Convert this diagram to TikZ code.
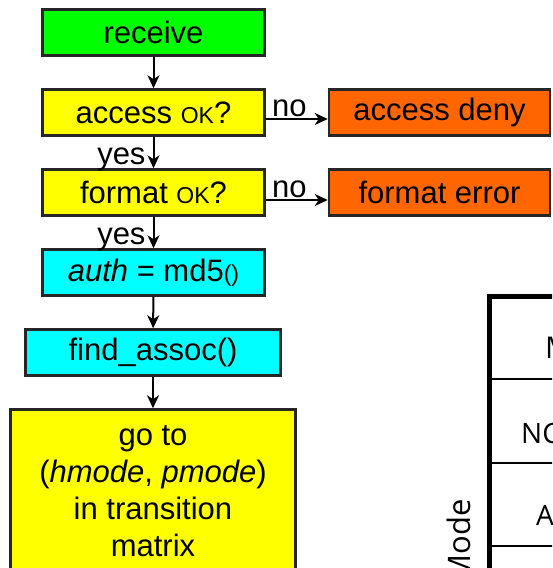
\documentclass[tikz,border=0pt]{standalone}
\usepackage{fontspec}
\setmainfont{Liberation Sans}
\newfontfamily\tabfont{Open Sans}
\usetikzlibrary{positioning,arrows.meta}
\definecolor{rcvgreen}{RGB}{0,255,0}
\definecolor{chkyellow}{RGB}{255,255,0}
\definecolor{opcyan}{RGB}{0,255,255}
\definecolor{errorange}{RGB}{255,102,0}
\tikzset{
	box/.style={draw=black!85, line width=2.5pt, inner sep=0pt, align=center,
		font=\fontsize{31}{37}\selectfont},
	arr/.style={line width=2pt, -{Stealth[length=13pt, width=12pt, inset=4pt]}},
	lbl/.style={inner sep=0pt, font=\fontsize{31}{37}\selectfont},
	gridline/.style={line width=2pt},
	tabtxt/.style={inner sep=0pt, font=\tabfont\fontsize{28}{32}\selectfont}
}
\newcommand{\sm}[1]{{\fontsize{23}{28}\selectfont #1}}

\begin{document}
\begin{tikzpicture}[x=1pt, y=-1pt]
	\useasboundingbox (0,0) rectangle (552,568);
	\clip (0,0) rectangle (552,568);

	\node[box, fill=rcvgreen, minimum width=222pt, minimum height=46pt] (receive) at (153.5, 32.5) {receive};
	\node[box, fill=chkyellow, minimum width=222pt, minimum height=46pt] (access) at (153.5, 112.5) {access \sm{OK}?};
	\node[box, fill=chkyellow, minimum width=222pt, minimum height=46pt] (format) at (153.5, 192.5) {format \sm{OK}?};
	\node[box, fill=opcyan, minimum width=222pt, minimum height=46pt] (auth) at (153.5, 272.5) {\textit{auth} = md5\sm{()}};
	\node[box, fill=opcyan, minimum width=255pt, minimum height=46pt] (assoc) at (153, 352.5) {find\_assoc()};
	\node[box, fill=chkyellow, minimum width=285pt, minimum height=164pt] (goto) at (153, 491.5)
		{go to\\(\textit{hmode}, \textit{pmode})\\in transition\\matrix};
	\node[box, fill=errorange, minimum width=221pt, minimum height=46pt] (deny) at (439.5, 112.5) {access deny};
	\node[box, fill=errorange, minimum width=221pt, minimum height=46pt] (ferror) at (439.5, 192.5) {format error};

	\draw[arr] (receive) -- (access);
	\draw[arr] (access) -- node[lbl, pos=0.87, anchor=base east, xshift=-7pt] {yes} (format);
	\draw[arr] (format) -- node[lbl, pos=0.87, anchor=base east, xshift=-7pt] {yes} (auth);
	\draw[arr] (auth) -- (assoc);
	\draw[arr] (assoc) -- (goto);
	\draw[arr] ([yshift=-6.5pt]access.east) -- node[lbl, pos=0.38, anchor=south, yshift=1pt] {no} ([yshift=-6.5pt]deny.west);
	\draw[arr] ([yshift=-7.5pt]format.east) -- node[lbl, pos=0.38, anchor=south, yshift=1pt] {no} ([yshift=-7.5pt]ferror.west);

	\draw[line width=5pt, line join=miter] (489.5, 600) -- (489.5, 296.5) -- (600, 296.5);
	\draw[gridline] (489.5, 379) -- (600, 379);
	\draw[gridline] (489.5, 463) -- (600, 463);
	\draw[gridline] (489.5, 546) -- (600, 546);
	\node[tabtxt, anchor=base west, font=\tabfont\fontsize{30}{34}\selectfont] (mhead) at (545, 358) {M};
	\node[tabtxt, anchor=base west] (nc) at (521, 443) {NC};
	\node[tabtxt, anchor=base west] (acol) at (536, 525) {A};
	\node[tabtxt, rotate=90, anchor=base east, font=\tabfont\fontsize{31}{34}\selectfont] (mode) at (470, 499) {Mode};
\end{tikzpicture}
\end{document}
